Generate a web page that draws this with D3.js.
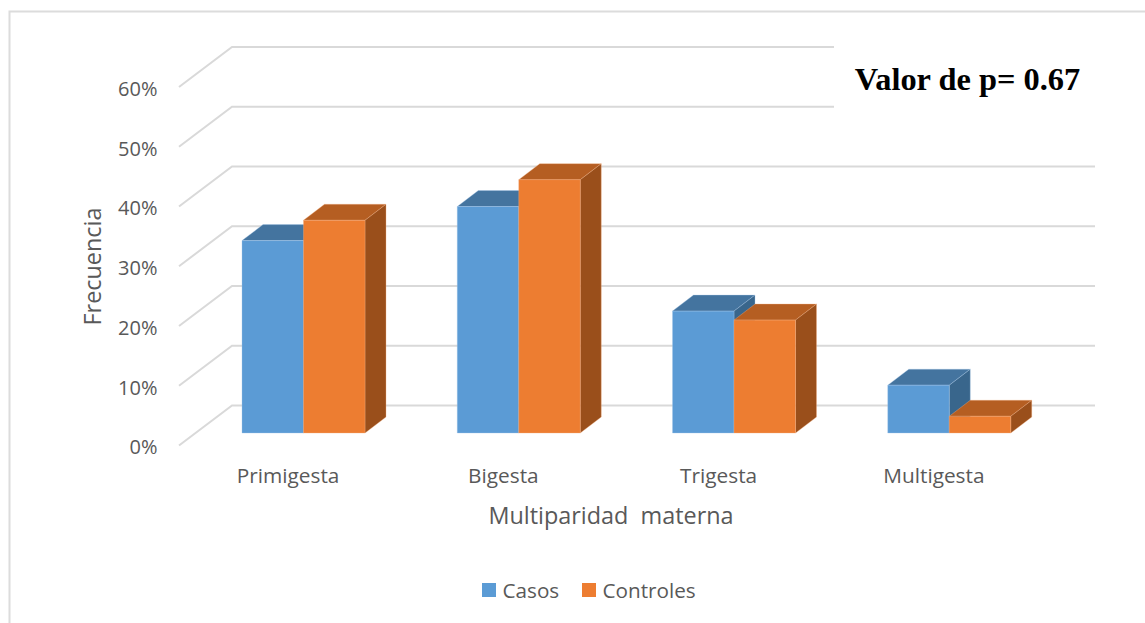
<!DOCTYPE html>
<html>
<head>
<meta charset="utf-8">
<script src="https://cdn.jsdelivr.net/npm/d3@7/dist/d3.min.js"></script>
<style>
html,body{margin:0;padding:0;background:#fff;overflow:hidden}
svg{display:block}
text{font-family:"Open Sans",sans-serif;fill:#595959}
</style>
</head>
<body>
<svg id="chart" width="1145" height="623"></svg>
<script>
// Maternal parity by group, share of each group (percent)
const categories = ["Primigesta", "Bigesta", "Trigesta", "Multigesta"];
const seriesNames = ["Casos", "Controles"];
const casos = [32.2, 37.9, 20.4, 8.0];
const controles = [35.6, 42.4, 18.9, 2.8];
const yTicks = [0, 10, 20, 30, 40, 50, 60];
const annotation = "Valor de p= 0.67";

const seriesValues = [casos, controles];
const palette = [
  {front: "#5b9bd5", top: "#44749f", side: "#39668c", edge: "#a3c6e8"},
  {front: "#ed7d31", top: "#b55e22", side: "#9a4f1b", edge: "#f3ae80"}
];

const svg = d3.select("#chart");

// Chart frame, open towards the right and bottom page edges
svg.append("path")
  .attr("d", "M9.5,623V11.5H1145")
  .attr("fill", "none").attr("stroke", "#dcdcdc").attr("stroke-width", 2);

// Oblique projection: wall depth and bar depth
const wall = {dx: 53, dy: -40, right: 1095};
const barDepth = {dx: 21, dy: -16};
const baseY = 433;

const yWall = d3.scaleLinear().domain([0, 60]).range([405.5, 47]);
const yFront = d3.scaleLinear().domain([0, 60]).range([405.5 - wall.dy, 47 - wall.dy]);
const x = d3.scaleBand().domain(categories).range([196, 1057]).paddingInner(0).paddingOuter(0);
const xGroup = d3.scaleBand().domain(seriesNames).range([46, 46 + 123]);
const wallX = 232;

// Gridlines: floor or side-wall segment, then the back wall
svg.append("g").selectAll("path").data(yTicks).join("path")
  .attr("fill", "none").attr("stroke", "#d9d9d9").attr("stroke-width", 2)
  .attr("d", d => `M${wallX - wall.dx},${yFront(d)}L${wallX},${yWall(d)}H${wall.right}`);

// White box behind the p-value note
svg.append("rect").attr("x", 834).attr("y", 30).attr("width", 262).attr("height", 78).attr("fill", "#fff");
svg.append("text").attr("x", 967.5).attr("y", 90).attr("text-anchor", "middle")
  .style("font-family", '"Liberation Serif",serif').style("font-weight", "bold")
  .style("font-size", "32.4px").style("fill", "#000").text(annotation);

// Prism bars, back faces first within each pair
const bars = svg.append("g");
categories.forEach((cat, i) => {
  seriesNames.forEach((name, s) => {
    const v = seriesValues[s][i];
    const c = palette[s];
    const x0 = x(cat) + xGroup(name);
    const w = xGroup.bandwidth();
    const yTop = baseY - (yWall(0) - yWall(v));
    const g = bars.append("g").attr("stroke-width", 1).attr("stroke-linejoin", "round");
    g.append("path").attr("fill", c.top).attr("stroke", c.edge).attr("stroke-opacity", 0.35)
      .attr("d", `M${x0},${yTop}l${barDepth.dx},${barDepth.dy}h${w}l${-barDepth.dx},${-barDepth.dy}z`);
    g.append("path").attr("fill", c.side).attr("stroke", c.edge).attr("stroke-opacity", 0.35)
      .attr("d", `M${x0 + w},${yTop}l${barDepth.dx},${barDepth.dy}V${baseY + barDepth.dy}l${-barDepth.dx},${-barDepth.dy}z`);
    g.append("rect").attr("x", x0).attr("y", yTop).attr("width", w).attr("height", baseY - yTop)
      .attr("fill", c.front).attr("stroke", c.edge).attr("stroke-opacity", 0.35);
  });
});

// Value axis labels
const yAxis = d3.axisLeft(yFront).tickValues(yTicks).tickSize(0).tickPadding(0).tickFormat(d => d + "%");
svg.append("g").attr("transform", "translate(157.5,2)").call(yAxis)
  .call(g => g.select(".domain").remove())
  .call(g => g.selectAll("text").style("font-size", "20px").style("font-family", '"Open Sans",sans-serif').attr("fill", "#595959"));

// Category axis labels, centred on the front edge of the floor
const xAxis = d3.axisBottom(x).tickSize(0).tickPadding(0);
svg.append("g").attr("transform", "translate(-15.5,468)").call(xAxis)
  .call(g => g.select(".domain").remove())
  .call(g => g.selectAll("text").style("font-size", "20.8px").style("font-family", '"Open Sans",sans-serif').attr("fill", "#595959"));

// Axis titles
svg.append("text").attr("x", 611).attr("y", 524).attr("text-anchor", "middle")
  .style("font-size", "23.4px").style("white-space", "pre").text("Multiparidad  materna");
svg.append("text").attr("transform", "translate(101,266.5) rotate(-90)").attr("text-anchor", "middle")
  .style("font-size", "23.4px").text("Frecuencia");

// Legend
const legendX = [482, 582];
const legend = svg.append("g").selectAll("g").data(seriesNames).join("g")
  .attr("transform", (d, i) => `translate(${legendX[i]},583)`);
legend.append("rect").attr("width", 14).attr("height", 14).attr("fill", (d, i) => palette[i].front);
legend.append("text").attr("x", 20.5).attr("y", 14.5).style("font-size", "20.7px").text(d => d);
</script>
</body>
</html>
